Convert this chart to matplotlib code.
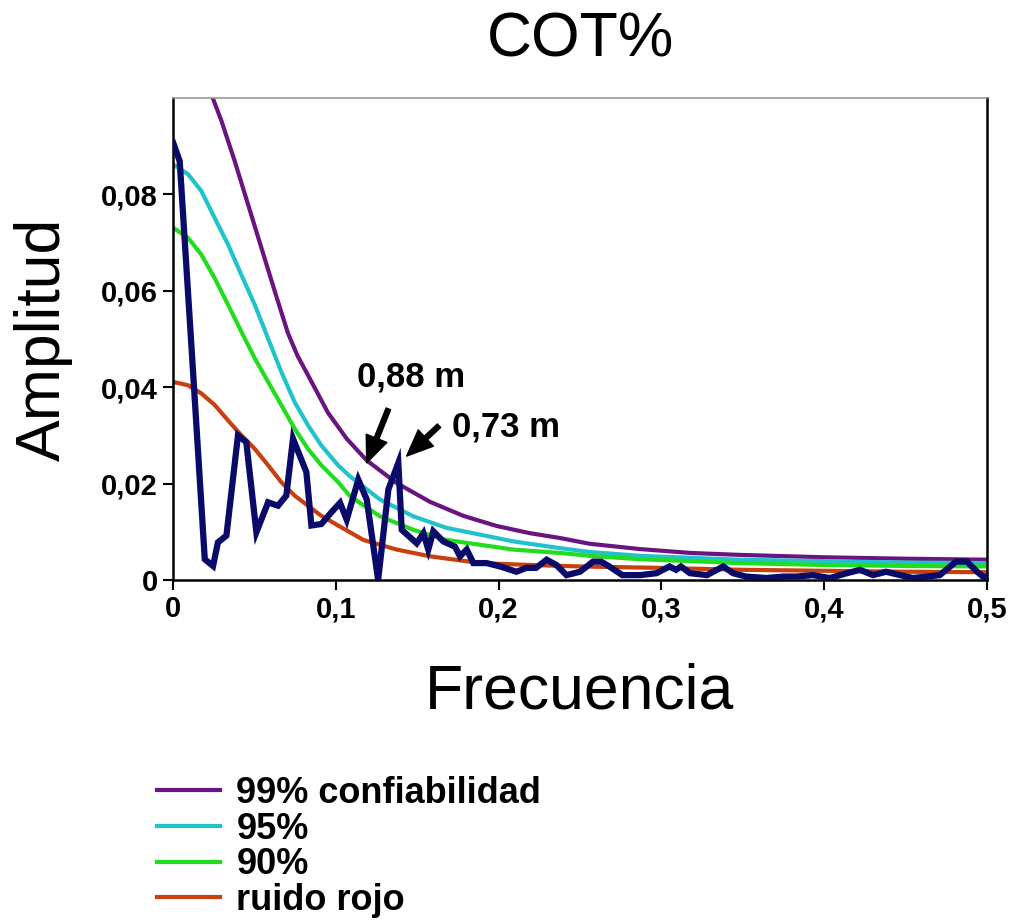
import matplotlib
matplotlib.use('Agg')
import matplotlib.pyplot as plt

# spectrum (COT%)
freq = [0.0, 0.0041, 0.0123, 0.0195, 0.0246, 0.0276, 0.0328, 0.0399, 0.045, 0.0512,
        0.0584, 0.0645, 0.0696, 0.0737, 0.0819, 0.085, 0.0911, 0.0972, 0.1026, 0.1067,
        0.1138, 0.119, 0.126, 0.1323, 0.1384, 0.1405, 0.1497, 0.1538, 0.1568, 0.1599,
        0.166, 0.1732, 0.1763, 0.1804, 0.1845, 0.1926, 0.2009, 0.211, 0.217,
        0.223, 0.2295, 0.2355, 0.2417, 0.25, 0.258, 0.263, 0.268, 0.276, 0.287,
        0.297, 0.305, 0.309, 0.312, 0.3175, 0.328, 0.338, 0.344, 0.352, 0.3645,
        0.375, 0.383, 0.393, 0.4035, 0.414, 0.422, 0.430, 0.438, 0.4466, 0.4545,
        0.463, 0.471, 0.475, 0.481, 0.4877, 0.494, 0.4975, 0.5]
amp = [0.0908, 0.0869, 0.0432, 0.0043, 0.0029, 0.0078, 0.0092, 0.030, 0.0286, 0.0099,
       0.0161, 0.0154, 0.0175, 0.0293, 0.0224, 0.0113, 0.0116, 0.014, 0.016, 0.0125,
       0.0208, 0.0167, 0.0, 0.0188, 0.0243, 0.0104, 0.0076, 0.0097, 0.0063, 0.0101,
       0.0080, 0.0069, 0.0049, 0.0063, 0.0035, 0.0035, 0.0028, 0.0017, 0.0025,
       0.0025, 0.0042, 0.0031, 0.0010, 0.0017, 0.0038, 0.0038, 0.0028, 0.0010, 0.0010,
       0.0014, 0.0028, 0.0021, 0.0028, 0.0014, 0.0010, 0.0028, 0.0014, 0.0007, 0.0004,
       0.0007, 0.0007, 0.0010, 0.0004, 0.0014, 0.0021, 0.0010, 0.0017, 0.0010, 0.0004,
       0.0007, 0.0010, 0.0021, 0.0038, 0.0038, 0.0017, 0.0007, 0.0005]

# confidence levels
f99 = [0.0, 0.010, 0.0175, 0.0235, 0.0297, 0.0379, 0.0461, 0.0543, 0.0625, 0.0706,
       0.0765, 0.0829, 0.0952, 0.1067, 0.119, 0.1374, 0.1579, 0.1783, 0.1988, 0.2193,
       0.2377, 0.256, 0.287, 0.318, 0.348, 0.40, 0.45, 0.5]
c99 = [0.124, 0.115, 0.108, 0.1008, 0.0953, 0.0869, 0.0779, 0.0689, 0.0599, 0.0512,
       0.0465, 0.0425, 0.0347, 0.0293, 0.0248, 0.0201, 0.0162, 0.0133, 0.0112, 0.0097,
       0.0087, 0.0075, 0.0064, 0.0056, 0.0052, 0.0047, 0.0044, 0.0042]

f95 = [0.0, 0.0092, 0.0174, 0.0256, 0.0338, 0.042, 0.0502, 0.0584, 0.0665, 0.0747,
       0.0829, 0.0911, 0.1014, 0.1087, 0.1271, 0.1476, 0.1681, 0.1886, 0.209, 0.2377,
       0.256, 0.287, 0.348, 0.40, 0.45, 0.5]
c95 = [0.0862, 0.0842, 0.0807, 0.0751, 0.0696, 0.0633, 0.0571, 0.0501, 0.0432, 0.0369,
       0.0321, 0.0279, 0.0238, 0.0215, 0.0167, 0.0132, 0.0108, 0.0094, 0.008, 0.0066,
       0.0058, 0.0050, 0.0042, 0.0039, 0.0036, 0.0035]

f90 = [0.0, 0.0092, 0.0174, 0.0256, 0.0338, 0.042, 0.0502, 0.0584, 0.0665, 0.0747,
       0.0829, 0.0911, 0.1014, 0.1087, 0.1271, 0.1476, 0.1681, 0.1886, 0.209, 0.2377,
       0.256, 0.287, 0.348, 0.40, 0.45, 0.5]
c90 = [0.0731, 0.071, 0.0675, 0.0626, 0.0571, 0.0515, 0.046, 0.0411, 0.0363, 0.0314,
       0.0272, 0.0238, 0.0203, 0.0174, 0.0132, 0.0104, 0.0083, 0.0073, 0.0063, 0.0056,
       0.0050, 0.0043, 0.0035, 0.0031, 0.0029, 0.0028]

fred = [0.0, 0.0092, 0.0174, 0.0256, 0.0338, 0.042, 0.0502, 0.0584, 0.0665, 0.0747,
        0.0829, 0.0911, 0.1014, 0.1169, 0.1374, 0.1579, 0.1886, 0.22, 0.25, 0.30,
        0.35, 0.40, 0.45, 0.5]
cred = [0.0411, 0.0404, 0.0387, 0.0363, 0.0331, 0.030, 0.0272, 0.0238, 0.0203, 0.0175,
        0.0154, 0.0133, 0.0113, 0.0083, 0.0063, 0.0049, 0.0035, 0.0031, 0.0028, 0.0025,
        0.0021, 0.0019, 0.0017, 0.0016]

xticks = [0, 0.1, 0.2, 0.3, 0.4, 0.5]
xticklabels = ['0', '0,1', '0,2', '0,3', '0,4', '0,5']
yticks = [0, 0.02, 0.04, 0.06, 0.08]
yticklabels = ['0', '0,02', '0,04', '0,06', '0,08']

plt.rcParams['font.family'] = ['Liberation Sans', 'DejaVu Sans']

fig = plt.figure(figsize=(10.13, 9.22), dpi=100)
ax = fig.add_axes([0.1708, 0.371, 0.8035, 0.5227])

l99, = ax.plot(f99, c99, color='#6a1482', lw=3, label='99% confiabilidad')
l95, = ax.plot(f95, c95, color='#22c2cc', lw=3, label='95%')
l90, = ax.plot(f90, c90, color='#22dd1e', lw=3, label='90%')
lred, = ax.plot(fred, cred, color='#c8400e', lw=3, label='ruido rojo')
ax.plot(freq, amp, color='#0a0a6a', lw=4.5, solid_joinstyle='miter', zorder=5)

ax.set_xlim(0, 0.5)
ax.set_ylim(0, 0.1)
ax.set_xticks(xticks)
ax.set_xticklabels(xticklabels, fontsize=21, fontweight='bold')
ax.set_yticks(yticks)
ax.set_yticklabels(yticklabels, fontsize=21, fontweight='bold')
ax.tick_params(direction='out', length=7, width=1.5, pad=4)

for side in ['left', 'bottom', 'right']:
    ax.spines[side].set_linewidth(1.8)
    ax.spines[side].set_color('black')
ax.spines['top'].set_color('#999999')
ax.spines['top'].set_linewidth(1.2)

ax.set_xlabel('Frecuencia', fontsize=45, labelpad=28)
ax.set_ylabel('Amplitud', fontsize=45, labelpad=20)
fig.text(0.573, 0.957, 'COT%', fontsize=45, ha='center', va='center')

# peak annotations
arrow_style = dict(facecolor='black', edgecolor='black', width=3.5,
                   headwidth=16, headlength=19, shrink=0)
ax.annotate('', xy=(0.119, 0.0243), xytext=(0.1323, 0.0355), arrowprops=arrow_style)
ax.annotate('', xy=(0.1435, 0.0257), xytext=(0.1634, 0.0320), arrowprops=arrow_style)
ax.text(0.1462, 0.0421, '0,88 m', fontsize=25, fontweight='bold', ha='center', va='center')
ax.text(0.1714, 0.0317, '0,73 m', fontsize=25, fontweight='bold', ha='left', va='center')

fig.legend(handles=[l99, l95, l90, lred], loc='upper left',
           bbox_to_anchor=(0.137, 0.178), frameon=False,
           prop={'size': 26, 'weight': 'bold'}, handlelength=1.75,
           handletextpad=0.45, labelspacing=0.02, borderpad=0)

fig.savefig('out.png', dpi=100)
